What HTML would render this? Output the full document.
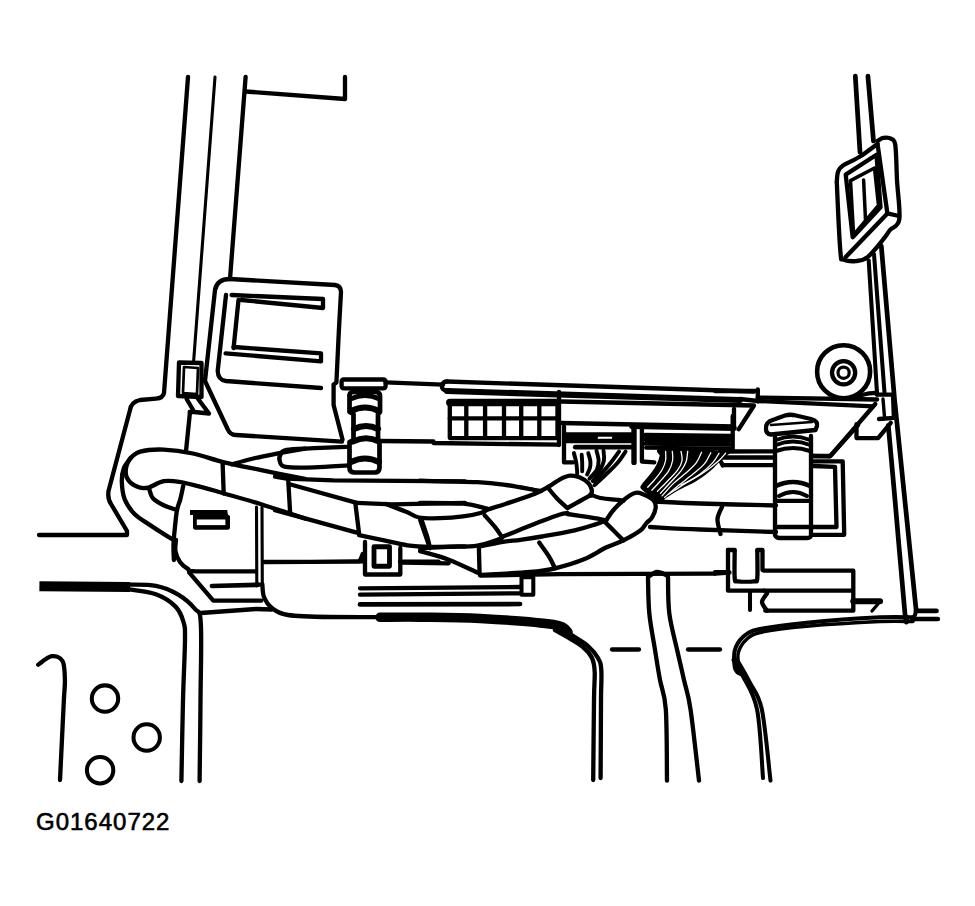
<!DOCTYPE html>
<html><head><meta charset="utf-8"><style>
html,body{margin:0;padding:0;background:#fff;}
body{width:975px;height:906px;overflow:hidden;position:relative;}
svg{position:absolute;left:0;top:0;}
.t{position:absolute;left:36px;top:808px;font-family:"Liberation Sans",sans-serif;font-size:24px;color:#000;letter-spacing:1px;-webkit-text-stroke:0.6px #000;}
</style></head><body>
<svg width="975" height="906" viewBox="0 0 975 906" fill="none" stroke="#000" stroke-width="4.32" stroke-linecap="round" stroke-linejoin="round">
<!-- left pillar -->
<path d="M188,77 L164,393 Q163,398 156,398.7 L140,400 Q131,402 130,410 L108.5,491 Q107.5,499 111,504 L127,531 L127,535 L39,535"/>
<path d="M215,77 L193.5,363" stroke-width="3.10"/>
<path d="M245.6,77 L230,279"/>
<path d="M245.6,91.5 L345,99 L345,77"/>
<!-- module box -->
<path d="M230,279 L335,285 Q341,286 341,292 L338.9,330 L336.4,382.5 L333.6,384.5 L333.6,405 L342.5,439.5"/>
<path d="M230,279 Q217,279 215,290 L205,381 L227.6,429 Q230,435 236,435 L342,441.7"/>
<path d="M226,295 L217.7,371 Q218,380 226,381 L321,388"/>
<path d="M231.6,295 L323,299 L323,308 L241.5,300"/>
<path d="M238.5,300 L233.6,348"/>
<path d="M233.6,347 L321,353.4 L321,361.4 L225.6,353.4"/>
<!-- clip on pillar -->
<path d="M179,362.5 L201.5,363 L201.5,397 L178,396 Z"/>
<path d="M184,367 L198,368 L197,394 L183,393 Z" stroke-width="2.70"/>
<path d="M186.6,399 L194.3,412 L209,413.5 L197.4,398 M189.7,412 L194.3,412"/>
<path d="M190,412 L186,451"/>

<!-- ledge + rail -->
<rect x="341.6" y="379.5" width="44" height="8.8" rx="2"/>
<path d="M385.6,382.4 L443,384.7"/>
<path d="M447,381.5 L754,391.5"/>
<path d="M447,390.5 Q441,390 442,385.6 Q443,381.5 447,381.5"/>
<path d="M447,391 L740,400" stroke-width="6.08"/>
<path d="M559,392 L559,445"/>
<path d="M561,401.5 L754,405.5 L738.6,429.3"/>
<path d="M561,423 L734,426.5"/>
<path d="M734,409 L734,428"/>
<!-- grid block -->
<path d="M449.8,402.5 L557.5,402.5" stroke-width="7.43"/>
<path d="M449.8,401.2 L449.8,438.1 L557.5,438.1 L557.5,401.2"/>
<path d="M449.8,418.4 L557.5,418.4"/>
<path d="M466.3,404 L466.3,438 M485.1,404 L485.1,438 M504,404 L504,438 M521.2,404 L521.2,438 M539.3,404 L539.3,438"/>
<path d="M379.4,441 L433.5,441.5 L433.5,443 L558,444.7"/>

<!-- left connector cylinder -->
<path d="M349.5,395 Q350,392 353,392 L377,392 Q380,393 380,396 L380,412 L378,414 L378,440 L379.5,442 L379.5,468 Q379,472.5 375,472.5 L354,472.5 Q349.5,472 349.5,468 L349.5,442 L353.5,440 L353.5,414 L349.5,412 Z" stroke-width="4.73"/>
<path d="M351,399 Q365,392 379,399" stroke-width="4.73"/>
<path d="M351,411 Q365,404 379,411" stroke-width="6.08"/>
<path d="M354,429 Q366,423 378,429" stroke-width="6.08"/>
<path d="M353,441.5 Q366,435 379,441.5" stroke-width="6.08"/>
<path d="M351,462 Q365,455 379,462" stroke-width="6.08"/>
<!-- right connector -->
<path d="M766,429 Q765,422 774,419.5 L785,415.5 Q790,414 796,415.5 L811,419 Q818,421 817,426 L815.5,430 L771,434.5 Q766,434 766,429 Z" stroke-width="4.32"/>
<path d="M771,425 L812,422" stroke-width="2.70"/>
<path d="M775,436 L775,535 Q776,538 780,538 L807,538 Q811,538 811,535 L811,436" stroke-width="4.32"/>
<path d="M776,440 Q793,433 810,440 M776,445 Q793,438 810,445 M776,451 Q793,445 810,451" stroke-width="4.05"/>
<path d="M776,486 Q793,478 810,486" stroke-width="4.32"/>
<path d="M779,496 Q793,488 807,496" stroke-width="4.05"/>
<path d="M776,500.8 L810,500.8 M776,527 L810,527" stroke-width="4.32"/>
<path d="M811.8,461.4 L842.7,461.4 L844.2,534.8 L811.8,534.8"/>
<path d="M813.3,466 L835,466.8 L836.5,527 L813.3,527"/>
<path d="M811.8,456 L830.3,456 L858.1,425.1"/>
<!-- lines left of right connector -->
<path d="M720,451.5 L775,451.3 M722.8,457.5 L775,457.5 M722.8,465.2 L775,465.2"/>
<path d="M720.5,461 L722.8,465.4"/>

<!-- connector 1 -->
<path d="M564,426.3 L564,462.4 L573,462.4"/>
<path d="M566,434.5 L632,434.5 M566,437 L596,437 M614,438.5 L632,438.5 M566,441 L632,441" stroke-width="4.32"/>
<path d="M575.3,447.2 L631.7,447.2" stroke-width="4.73"/>
<path d="M634,426 L634,462.4" stroke-width="5.40"/>
<path d="M641.9,426 L641.9,461.5 L654.3,462.4" stroke-width="4.32"/>
<!--FAN1-->
<!-- connector 2 -->
<path d="M632,426.3 L734,428.3" stroke-width="5.40"/>
<path d="M645,435 L730,436 M645,439 L730,440 M645,443.5 L730,444.5" stroke-width="4.32"/>
<path d="M646,447.7 L730,448.5" stroke-width="4.05"/>
<path d="M732.7,416 L732.7,449.7" stroke-width="4.32"/>
<!--FAN2-->
<path d="M305.0,478.9 C297.7,477.4 274.6,472.9 261.2,470.1 C247.7,467.3 235.5,465.1 224.1,462.3 C212.8,459.5 203.0,455.6 192.9,453.5 C182.9,451.4 172.5,450.0 163.7,449.6 C154.9,449.3 146.0,450.0 140.3,451.6 C134.6,453.2 132.1,456.0 129.6,459.4 C127.2,462.8 125.7,468.3 125.7,472.1 C125.7,475.8 127.2,479.2 129.6,481.8 C132.1,484.4 137.1,486.7 140.3,487.7 C143.6,488.6 145.2,488.3 149.1,487.3 C153.0,486.2 158.7,482.1 163.7,481.2 C168.8,480.3 172.8,480.8 179.3,481.8 C185.8,482.8 195.2,485.3 202.7,487.3 C210.2,489.2 214.4,490.7 224.1,493.5 C233.9,496.3 247.7,500.1 261.2,504.2 C274.6,508.4 297.7,516.1 305.0,518.5" stroke-width="4.32"/>
<path d="M130.6,458.0 C129.5,459.7 125.2,464.2 123.8,468.2 C122.3,472.1 121.7,476.6 121.8,481.8 C122.0,487.0 122.6,494.0 124.7,499.4 C126.9,504.7 130.3,509.7 134.5,514.0 C138.7,518.3 144.6,521.4 150.1,525.1 C155.6,528.8 163.6,533.9 167.6,536.4 C171.7,538.9 173.3,539.7 174.4,540.3" stroke-width="4.32"/>
<path d="M149.1,488.6 C149.8,490.3 150.6,495.6 153.0,498.4 C155.4,501.1 159.7,503.3 163.7,505.2 C167.7,507.2 174.8,509.3 177.0,510.1" stroke-width="4.32"/>
<path d="M183.2,486.1 C182.7,488.3 181.3,495.4 180.3,499.4 C179.2,503.4 177.8,505.5 177.0,510.1 C176.1,514.6 175.6,521.0 175.0,526.7 C174.4,532.3 173.7,538.6 173.5,544.2 C173.3,549.8 173.8,557.4 173.9,560.0" stroke-width="4.32"/>
<path d="M222.6,462.3 L223.7,493.5" stroke-width="4.32"/>
<path d="M190,510 L227.3,510 L227.8,514.5 L230,516 L230,527.5 Q230,529.7 227.5,529.7 L195.5,529.7 Q193,529.7 193,527 L193,515 L190,515 Z" fill="#000" stroke="none"/>
<rect x="196.8" y="519.5" width="28.6" height="5.6" fill="#fff" stroke="none"/>
<path d="M256.5,507.0 L256.8,586.0" stroke-width="3.10"/>
<path d="M262.0,507.0 L262.3,586.0" stroke-width="3.10"/>
<path d="M231.9,464.3 C235.8,463.2 247.2,459.9 255.3,458.0 C263.4,456.1 272.4,454.5 280.6,452.9 C288.9,451.4 300.9,449.4 305.0,448.7" stroke-width="4.32"/>
<path d="M346.1,446.8 C340.8,447.1 323.9,447.7 314.0,448.2 C304.1,448.7 292.3,448.7 286.7,449.8 C281.1,450.8 281.6,452.7 280.5,454.6 C279.3,456.6 279.0,459.4 279.9,461.5 C280.7,463.5 280.0,465.9 285.7,466.9 C291.4,467.9 303.6,467.6 314.0,467.3 C324.4,467.0 342.4,465.7 348.1,465.4" stroke-width="4.32"/>
<path d="M275.0,476.7 L286.7,478.6 L333.5,480.4 L465.0,481.3" stroke-width="4.32"/>
<path d="M288.3,481.3 L290.2,514.1" stroke-width="4.32"/>
<path d="M290.6,484.5 L356.8,502.8" stroke-width="4.32"/>
<path d="M275.0,510.2 L356.8,532.6" stroke-width="4.32"/>
<path d="M355.3,502.8 L359.2,534.6" stroke-width="4.32"/>
<path d="M356.8,502.8 L391.9,504.4 L465.0,502.8" stroke-width="4.32"/>
<path d="M386.0,504.0 C387.5,504.6 391.3,506.1 395.0,507.5 C398.7,508.9 404.0,510.8 408.0,512.5 C412.0,514.2 413.7,516.5 419.0,517.5 C424.3,518.5 432.7,518.4 440.0,518.2 C447.3,518.0 456.1,517.3 463.0,516.4 C469.9,515.5 477.4,513.9 481.5,512.7 C485.6,511.6 486.5,510.0 487.5,509.5" stroke-width="4.32"/>
<path d="M420.2,520.0 L429.3,546.3" stroke-width="4.32"/>
<path d="M359.2,535.2 C363.3,536.0 376.1,538.7 384.1,540.4 C392.2,542.1 399.7,544.2 407.5,545.3 C415.3,546.4 421.3,546.7 430.9,546.9 C440.5,547.0 459.3,546.4 465.0,546.3" stroke-width="4.32"/>
<path d="M420.0,480.7 C429.6,480.9 463.0,481.5 477.4,482.2 C491.8,482.9 496.6,483.7 506.2,485.0 C515.8,486.3 529.1,489.1 534.9,490.1 C540.7,491.1 540.0,490.9 541.0,491.0" stroke-width="4.32"/>
<path d="M420.0,503.0 C427.2,503.1 451.8,502.8 463.0,503.7 C474.2,504.6 483.4,507.9 487.5,508.7" stroke-width="4.32"/>
<path d="M487.5,509.5 C490.6,508.5 498.1,506.3 506.0,503.7 C513.9,501.1 527.8,496.6 535.0,493.7 C542.2,490.8 544.8,488.9 549.0,486.5 C553.2,484.1 556.5,481.1 560.0,479.3 C563.5,477.5 566.7,476.0 570.0,475.7 C573.3,475.4 576.9,476.2 580.0,477.5 C583.1,478.8 586.5,481.1 588.5,483.2 C590.5,485.3 591.4,487.9 591.8,490.0 C592.2,492.1 591.1,494.6 591.0,495.5" stroke-width="4.32"/>
<path d="M484.6,515.2 C486.3,517.1 491.8,523.1 494.7,526.7 C497.6,530.3 500.6,535.0 501.8,536.7" stroke-width="4.32"/>
<path d="M501.8,537.0 C504.9,535.8 513.8,532.3 520.5,529.6 C527.2,526.9 535.4,523.5 542.0,521.0 C548.6,518.5 555.8,515.8 560.0,514.5 C564.2,513.2 566.2,513.2 567.4,513.0" stroke-width="4.32"/>
<path d="M548.7,488.7 C550.1,490.4 554.2,495.5 557.3,498.7 C560.4,501.9 565.7,506.4 567.4,508.0" stroke-width="4.32"/>
<path d="M567.4,508.0 C569.5,506.8 576.1,503.2 580.0,501.0 C583.9,498.8 589.2,496.0 591.0,495.0" stroke-width="4.32"/>
<path d="M567.4,514.0 C571.0,514.5 582.4,516.2 588.9,517.2 C595.4,518.2 603.3,519.8 606.2,520.3" stroke-width="4.32"/>
<path d="M590.4,494.4 C592.1,495.0 595.4,497.0 600.4,498.0 C605.4,499.0 616.7,499.7 620.5,500.2 C624.3,500.7 622.9,500.8 623.4,500.9" stroke-width="4.32"/>
<path d="M606.2,520.3 C607.4,518.6 610.4,513.5 613.3,510.2 C616.2,506.9 619.8,503.1 623.4,500.2 C627.0,497.3 631.5,494.0 634.9,493.0 C638.2,492.0 640.4,493.2 643.5,494.4 C646.6,495.6 651.5,498.0 653.5,500.2 C655.5,502.4 655.9,504.4 655.7,507.3 C655.5,510.2 653.7,514.8 652.1,517.4 C650.5,520.0 648.3,521.0 646.4,523.1 C644.5,525.2 644.4,527.4 640.6,530.3 C636.8,533.2 629.2,537.5 623.4,540.4 C617.6,543.3 612.5,544.4 606.0,547.5 C599.5,550.6 593.1,555.5 584.6,559.0 C576.1,562.5 564.1,566.1 555.0,568.3 C545.9,570.5 542.5,570.9 530.0,572.0 C517.5,573.1 488.3,574.5 480.0,575.0" stroke-width="4.32"/>
<path d="M604.7,521.7 C606.1,523.1 610.2,527.2 613.3,530.3 C616.4,533.4 621.7,538.7 623.4,540.4" stroke-width="4.32"/>
<path d="M480.0,546.5 C483.8,545.7 496.2,542.9 503.0,541.8 C509.8,540.7 514.0,540.7 520.5,539.8 C527.0,538.9 533.0,538.1 542.0,536.5 C551.0,534.9 565.8,532.3 574.6,530.3 C583.4,528.3 589.4,526.3 594.7,524.6 C600.0,522.9 604.3,521.0 606.2,520.3" stroke-width="4.32"/>
<path d="M421.4,519.5 C422.4,522.4 425.8,531.9 427.2,536.7 C428.6,541.5 429.5,546.3 430.0,548.2" stroke-width="4.32"/>
<path d="M420.0,548.2 C424.8,548.0 439.1,547.2 448.7,546.8 C458.3,546.4 468.5,547.0 477.4,545.6 C486.2,544.2 497.7,539.4 501.8,538.2" stroke-width="4.32"/>
<path d="M478.9,548.2 L479.6,574.1" stroke-width="4.32"/>
<path d="M420.0,551.1 C424.8,552.5 439.1,556.1 448.7,559.7 C458.3,563.3 472.6,570.5 477.4,572.6" stroke-width="4.32"/>
<path d="M402.0,562.6 L448.7,563.3" stroke-width="4.32"/>
<path d="M480.3,575.5 L560.0,574.1 L715.0,573.6" stroke-width="4.32"/>
<path d="M539.2,542.5 C540.9,544.9 546.6,552.5 549.2,556.8 C551.8,561.1 554.0,566.4 555.0,568.3" stroke-width="4.32"/>
<path d="M655.0,501.5 C662.5,501.8 679.8,502.8 700.0,503.5 C720.2,504.2 763.3,505.2 776.0,505.5" stroke-width="4.32"/>
<path d="M650.0,527.0 C658.3,527.4 679.0,528.7 700.0,529.5 C721.0,530.3 763.3,531.6 776.0,532.0" stroke-width="4.32"/>
<path d="M722.0,507.0 C721.2,509.0 717.8,514.5 717.5,519.0 C717.2,523.5 720.0,531.5 720.5,534.0" stroke-width="4.32"/>
<path d="M855.3,76.0 L860.0,152.0" stroke-width="4.73"/>
<path d="M867.9,76.0 L873.5,141.0" stroke-width="4.73"/>
<path d="M836.8,182.0 C837.0,180.3 837.0,174.7 838.0,172.0 C839.0,169.3 839.1,168.2 842.7,165.7 C846.3,163.2 853.8,160.5 859.6,156.8 C865.4,153.2 874.5,146.0 877.5,143.8" stroke-width="4.32"/>
<path d="M877.5,141.0 C878.5,140.5 881.1,138.2 883.4,137.9 C885.7,137.6 889.4,137.6 891.4,138.9 C893.4,140.2 894.5,139.0 895.4,145.8 C896.3,152.7 896.4,167.8 897.0,180.0 C897.6,192.2 900.5,211.0 899.3,219.3 C898.1,227.6 892.6,226.7 890.0,230.0 C887.4,233.3 887.1,234.7 883.4,239.2 C879.7,243.7 872.2,253.5 867.6,257.1 C863.0,260.8 859.7,260.7 855.6,261.1 C851.5,261.5 845.5,260.5 843.0,259.5 C840.5,258.5 841.5,261.6 840.7,255.0 C840.0,248.4 839.1,232.2 838.5,220.0 C837.9,207.8 837.1,188.3 836.8,182.0" stroke-width="4.32"/>
<path d="M845.7,174.6 L876.5,154.8 L880.5,207.4 L852.7,237.2 Z" stroke-width="4.32"/>
<path d="M850.5,180.6 L874.5,168.0 L878.5,205.5 L853.6,235.0 Z" stroke-width="3.51"/>
<path d="M863.6,180.0 L865.6,222.0" stroke-width="3.51"/>
<path d="M877.5,143.8 L887.4,213.4 L899.0,216.0" stroke-width="4.32"/>
<path d="M887.4,213.4 L845.7,257.1" stroke-width="4.32"/>
<path d="M868.7,260.5 L877.1,394.7" stroke-width="4.05"/>
<path d="M874.0,254.2 L884.5,392.6" stroke-width="4.05"/>
<path d="M881.3,246.0 L894.6,400.0 L916.2,610.9" stroke-width="4.73"/>
<path d="M888.3,425.4 C889.4,437.8 892.2,468.9 895.0,500.0 C897.8,531.1 902.8,592.4 904.8,612.0 C906.8,631.6 906.6,616.6 907.0,617.5" stroke-width="4.73"/>
<path d="M916.2,608.0 C916.0,609.2 915.7,613.2 915.0,615.0 C914.3,616.8 912.5,618.3 912.0,619.0" stroke-width="4.05"/>
<circle cx="843.6" cy="371.7" r="26.5" stroke-width="4.59"/>
<circle cx="843.6" cy="372.7" r="11.6" stroke-width="4.32"/>
<circle cx="843.6" cy="372.7" r="5.6" stroke-width="3.24"/>
<path d="M852.0,398.0 C854.3,397.3 862.2,394.8 866.0,394.0 C869.8,393.2 873.5,393.2 875.0,393.0" stroke-width="4.32"/>
<path d="M757.8,397.6 L877.1,399.5" stroke-width="4.32"/>
<path d="M757.8,389.5 L757.8,401.6" stroke-width="4.32"/>
<path d="M715.0,391.0 L757.8,391.0" stroke-width="4.32"/>
<path d="M740.0,399.0 L757.8,401.0 L873.0,406.3" stroke-width="4.32"/>
<path d="M877.1,394.7 L893.0,394.7 L893.9,417.8 L879.0,419.0" stroke-width="4.32"/>
<path d="M883.0,399.0 L884.5,417.0" stroke-width="3.38"/>
<path d="M875.3,404.0 L830.0,456.4 L811.8,456.0" stroke-width="4.32"/>
<path d="M856.5,424.1 L856.5,438.1 L878.1,438.1 L890.8,422.9" stroke-width="4.32"/>
<path d="M916.2,610.9 L936.5,610.9" stroke-width="4.73"/>
<path d="M913.7,619.0 L937.8,619.0" stroke-width="4.73"/>
<path d="M176.0,540.0 C175.9,541.9 174.8,547.6 175.5,551.3 C176.2,555.0 177.9,559.0 180.0,562.0 C182.1,565.0 185.3,567.5 188.0,569.0 C190.7,570.5 184.7,570.9 196.0,571.3 C207.3,571.7 246.0,571.3 256.0,571.3" stroke-width="4.32"/>
<path d="M189.3,572.7 L213.3,600.7 L261.3,600.7" stroke-width="4.32"/>
<path d="M212.0,586.0 L258.7,584.7" stroke-width="4.73"/>
<path d="M262.3,584.0 C262.6,586.2 262.4,593.0 264.0,597.0 C265.6,601.0 268.0,605.0 272.0,608.0 C276.0,611.0 278.3,613.5 288.0,615.0 C297.7,616.5 308.0,616.7 330.0,617.0 C352.0,617.3 405.0,617.0 420.0,617.0" stroke-width="4.32"/>
<path d="M200.8,613.0 L256.0,609.0 L272.0,609.5" stroke-width="4.32"/>
<path d="M264.0,562.0 C279.2,561.9 339.0,561.8 355.0,561.5 C371.0,561.2 358.7,561.2 360.0,560.0 C361.3,558.8 362.2,555.0 362.7,554.0" stroke-width="4.32"/>
<path d="M365.0,542.0 L365.0,574.5 L400.3,574.5 L400.3,548.0" stroke-width="4.32"/>
<rect x="374" y="546.8" width="15.5" height="19.5" stroke-width="4.86"/>
<path d="M400.0,561.7 L438.6,561.7" stroke-width="4.32"/>
<path d="M360.0,588.3 L520.0,587.0" stroke-width="4.32"/>
<path d="M360.0,594.7 L520.0,593.3" stroke-width="4.32"/>
<path d="M360.0,604.4 L520.0,604.0" stroke-width="4.73"/>
<rect x="521.5" y="577.3" width="11.8" height="17.4" stroke-width="4.05"/>
<path d="M380.0,617.3 C386.7,617.3 403.3,617.0 420.0,617.2 C436.7,617.4 457.8,617.3 480.0,618.5 C502.2,619.7 538.6,622.2 553.3,624.5 C568.0,626.8 565.5,630.8 568.0,632.0" stroke-width="9.45"/>
<path d="M560.0,626.0 C562.0,627.5 567.3,632.0 572.0,635.3 C576.7,638.6 583.7,642.2 588.0,646.0 C592.3,649.8 595.8,654.0 598.0,658.0 C600.2,662.0 600.8,663.0 601.3,670.0 C601.8,677.0 601.1,682.0 601.0,700.0 C600.9,718.0 600.7,765.0 600.6,778.0" stroke-width="4.32"/>
<path d="M555.0,630.0 C557.0,631.1 562.0,633.9 566.7,636.7 C571.4,639.5 578.8,643.5 583.0,647.0 C587.2,650.5 590.0,653.8 592.0,658.0 C594.0,662.2 594.4,665.0 594.7,672.0 C595.0,679.0 594.2,682.0 594.0,700.0 C593.8,718.0 593.3,766.7 593.2,780.0" stroke-width="4.32"/>
<path d="M612.0,649.5 L639.0,649.5" stroke-width="4.32"/>
<path d="M688.0,649.5 L720.0,649.5" stroke-width="4.32"/>
<path d="M648.0,578.0 C648.2,583.9 648.2,601.6 649.3,613.3 C650.4,625.0 652.9,636.9 654.7,648.0 C656.5,659.1 658.1,669.8 660.0,680.0 C661.9,690.2 664.6,692.4 665.8,709.2 C667.0,726.0 666.8,768.7 667.0,780.6" stroke-width="4.32"/>
<path d="M668.0,577.0 C668.2,583.0 667.8,601.0 669.3,613.3 C670.8,625.6 674.8,639.6 677.3,650.7 C679.8,661.8 681.8,670.2 684.0,680.0 C686.2,689.8 688.0,692.4 690.5,709.2 C693.0,726.0 697.6,768.7 699.0,780.6" stroke-width="4.32"/>
<path d="M648.0,577.0 C649.5,576.2 653.7,572.2 657.0,572.0 C660.3,571.8 666.2,575.3 668.0,576.0" stroke-width="4.32"/>
<path d="M715.0,573.6 L729.5,572.5" stroke-width="4.32"/>
<path d="M728.0,550.0 L728.0,590.7 L764.0,590.7" stroke-width="4.32"/>
<path d="M734.7,551.0 C734.7,555.5 734.2,573.0 734.7,578.0 C735.2,583.0 734.8,580.8 738.0,581.3 C741.2,581.8 750.8,581.8 754.0,581.3 C757.2,580.8 756.8,583.0 757.3,578.0 C757.8,573.0 757.3,555.5 757.3,551.0" stroke-width="4.32"/>
<path d="M728.0,550.0 L734.7,550.0" stroke-width="4.32"/>
<path d="M757.3,550.0 L762.5,550.0 L762.5,570.0" stroke-width="4.32"/>
<path d="M715.0,572.2 L728.0,572.2" stroke-width="4.32"/>
<path d="M764.0,570.7 L853.3,570.7 L853.3,610.7 L765.3,610.7" stroke-width="4.32"/>
<path d="M764.0,590.7 L852.0,590.7" stroke-width="4.32"/>
<path d="M767.0,593.5 C766.2,594.9 762.0,599.1 762.0,602.0 C762.0,604.9 766.2,609.2 767.0,610.7" stroke-width="4.32"/>
<path d="M750.0,592.0 L750.0,610.0" stroke-width="4.05"/>
<path d="M853.3,601.3 L880.0,601.3" stroke-width="6.08"/>
<path d="M872.0,611.0 L878.0,604.0" stroke-width="3.38"/>
<path d="M913.0,617.3 C907.5,617.3 897.7,616.4 880.0,617.3 C862.3,618.2 826.9,620.7 806.7,622.7 C786.5,624.7 769.4,626.9 758.7,629.3 C748.0,631.7 746.7,633.7 742.7,637.3 C738.7,640.9 736.0,645.8 734.7,650.7 C733.4,655.6 734.3,663.2 734.7,666.7 C735.1,670.2 736.0,670.6 737.2,672.0 C738.5,673.4 741.4,674.3 742.2,674.8" stroke-width="4.05"/>
<path d="M913.0,621.5 C907.5,621.5 897.7,620.7 880.0,621.5 C862.3,622.3 826.7,624.4 806.7,626.2 C786.7,628.0 770.1,630.2 760.0,632.5 C749.9,634.8 749.6,636.8 746.0,640.0 C742.4,643.2 739.8,647.8 738.5,652.0 C737.2,656.2 738.1,661.7 738.5,665.0 C738.9,668.3 740.6,670.8 741.0,672.0" stroke-width="3.51"/>
<path d="M733.5,660.0 C735.0,662.5 738.3,666.6 742.2,674.8 C746.1,683.0 753.5,692.0 757.0,709.2 C760.5,726.4 762.0,766.5 763.0,778.0" stroke-width="4.05"/>
<path d="M737.2,660.0 C739.2,663.7 745.4,673.8 749.5,682.0 C753.6,690.2 758.3,692.8 761.8,709.2 C765.3,725.6 769.0,768.7 770.5,780.6" stroke-width="4.05"/>
<path d="M39.4,586.3 L130,587" stroke-width="10.12" stroke-linecap="butt"/>
<path d="M129.2,584.6 C133.6,584.8 147.8,584.2 155.9,585.8 C164.0,587.4 171.3,590.5 177.8,594.3 C184.3,598.1 191.0,603.9 194.8,608.8 C198.6,613.6 199.9,608.2 200.8,623.4 C201.8,638.6 200.7,673.7 200.5,700.0 C200.3,726.3 199.8,767.5 199.6,781.0" stroke-width="4.32"/>
<path d="M129.2,589.4 C133.6,590.2 148.2,591.5 155.9,594.3 C163.6,597.1 170.7,601.8 175.3,606.4 C179.9,611.0 181.9,616.4 183.5,622.0 C185.1,627.6 185.1,627.0 185.0,640.0 C184.9,653.0 183.6,676.5 183.0,700.0 C182.4,723.5 181.7,767.5 181.4,781.0" stroke-width="4.32"/>
<path d="M38.2,664.7 C40.4,663.3 47.6,656.8 51.6,656.2 C55.6,655.6 60.3,657.2 62.5,661.0 C64.7,664.8 64.7,672.1 64.9,679.2 C65.1,686.3 64.5,686.7 63.7,703.5 C62.9,720.3 60.6,767.2 60.0,780.0" stroke-width="4.32"/>
<circle cx="105" cy="698.6" r="13.2" stroke-width="4.05"/>
<circle cx="146.7" cy="737.5" r="13.2" stroke-width="4.05"/>
<circle cx="100.1" cy="770.2" r="13.2" stroke-width="4.05"/>
<path d="M660.5,449.7 C667.2,449.3 720.5,450.8 727.2,451.3 C733.8,451.7 727.9,453.4 727.2,454.4 C726.5,455.3 721.5,459.1 720.0,460.5 C718.5,461.9 713.6,467.1 711.8,468.7 C709.9,470.3 703.6,475.5 701.5,476.9 C699.5,478.3 693.5,481.8 691.3,483.1 C689.0,484.3 681.5,487.8 679.0,489.2 C676.4,490.6 667.5,496.2 665.6,497.4 C663.8,498.6 661.8,501.5 660.5,501.5 C659.2,501.5 653.7,498.3 652.3,497.4 C650.9,496.5 647.3,493.3 646.2,492.3 C645.0,491.3 641.0,488.4 641.0,487.2 C641.0,485.9 645.0,481.4 646.2,480.0 C647.3,478.5 651.2,474.3 652.3,472.8 C653.4,471.3 656.6,466.3 657.4,464.6 C658.3,462.9 660.2,456.9 660.5,455.4 C660.8,453.9 653.8,450.1 660.5,449.7 Z" fill="#000" stroke="#000" stroke-width="1.5"/>
<path d="M665.6,451.3 C665.6,452.8 666.2,457.4 665.6,460.5 C665.0,463.6 663.9,466.5 662.1,469.7 C660.2,473.0 656.8,477.1 654.4,480.0 C652.0,482.9 648.8,486.0 647.7,487.2" stroke="#fff" stroke-width="1.3"/>
<path d="M672.3,451.3 C672.4,452.8 673.2,457.3 672.6,460.5 C672.0,463.8 670.9,467.2 668.7,470.8 C666.5,474.3 662.3,478.8 659.5,482.0 C656.7,485.3 653.1,488.9 651.8,490.2" stroke="#fff" stroke-width="1.3"/>
<path d="M681.0,451.3 C681.2,452.8 682.6,457.4 682.1,460.5 C681.5,463.6 680.3,466.3 677.9,469.7 C675.6,473.1 671.1,477.4 667.7,481.0 C664.3,484.6 659.1,489.6 657.4,491.3" stroke="#fff" stroke-width="1.3"/>
<path d="M687.7,451.3 C687.4,453.0 687.3,458.3 686.2,461.5 C685.0,464.8 683.6,467.3 681.0,470.8 C678.5,474.2 674.2,478.3 670.8,482.0 C667.4,485.8 662.2,491.4 660.5,493.3" stroke="#fff" stroke-width="1.3"/>
<path d="M701.5,452.3 C700.7,454.0 699.0,459.1 696.4,462.6 C693.8,466.0 689.9,469.4 686.2,472.8 C682.4,476.2 677.9,479.2 673.8,483.1 C669.8,486.9 664.0,493.7 662.1,495.9" stroke="#fff" stroke-width="1.3"/>
<path d="M710.8,452.8 C709.7,454.6 707.5,460.1 704.6,463.6 C701.7,467.1 697.6,470.2 693.3,473.8 C689.1,477.4 683.8,481.2 679.0,485.1 C674.2,489.0 667.0,495.4 664.6,497.4" stroke="#fff" stroke-width="1.3"/>
<path d="M719.0,453.3 C717.9,454.9 715.9,459.1 712.8,462.6 C709.7,466.0 705.3,470.2 700.5,473.8 C695.7,477.4 689.4,480.7 684.1,484.1 C678.8,487.5 671.3,492.6 668.7,494.3" stroke="#fff" stroke-width="1.3"/>
<path d="M725.6,453.3 C724.5,454.5 722.0,457.8 719.0,460.5 C716.0,463.2 712.0,466.7 707.7,469.7 C703.4,472.8 697.8,476.4 693.3,479.0 C688.9,481.5 683.1,484.1 681.0,485.1" stroke="#fff" stroke-width="1.3"/>
<path d="M573.9,453.1 C574.3,454.5 575.5,459.0 576.0,461.3 C576.5,463.7 576.6,465.0 576.8,467.1 C577.0,469.1 577.2,472.6 577.2,473.7" stroke-width="3.92"/>
<path d="M581.7,454.8 C581.8,456.1 582.1,460.3 582.2,463.0 C582.2,465.7 582.2,469.8 582.2,471.2" stroke-width="3.92"/>
<path d="M588.3,453.1 C588.6,454.5 590.1,458.9 590.4,461.3 C590.6,463.8 590.5,465.7 589.9,467.9 C589.4,470.1 587.6,473.4 587.1,474.5" stroke-width="3.92"/>
<path d="M596.5,450.7 C596.9,452.3 598.5,457.4 598.6,460.5 C598.6,463.7 598.4,466.5 596.9,469.6 C595.4,472.6 590.8,477.1 589.5,478.6" stroke-width="3.92"/>
<path d="M603.5,450.7 C603.6,452.3 604.6,457.1 603.9,460.5 C603.2,463.9 601.2,467.8 599.4,471.2 C597.5,474.6 593.9,479.4 592.8,481.1" stroke-width="3.92"/>
<path d="M619.1,451.5 C618.0,453.0 615.0,457.4 612.5,460.5 C610.1,463.7 607.3,467.0 604.3,470.4 C601.3,473.8 596.1,479.3 594.5,481.1" stroke-width="3.92"/>
<path d="M625.6,451.5 C624.3,453.4 620.7,459.2 617.4,463.0 C614.2,466.8 609.8,470.8 605.9,474.5 C602.1,478.2 596.4,483.4 594.5,485.2" stroke-width="3.92"/>
</svg>
<div class="t">G01640722</div>
</body></html>
